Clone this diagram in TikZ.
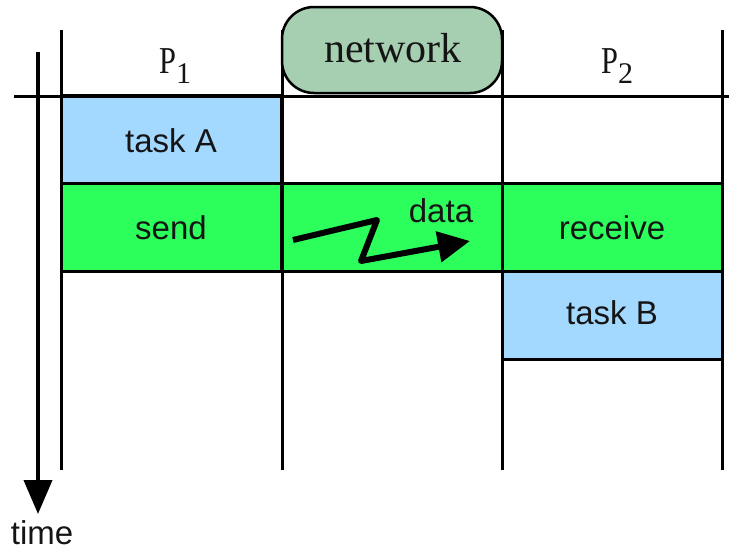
\documentclass[tikz,border=0pt]{standalone}
\usepackage{fontspec}
\setsansfont{Liberation Sans}
\newfontfamily\headfont{Liberation Serif}
\usetikzlibrary{arrows.meta}
\definecolor{taskblue}{HTML}{A3D8FF}
\definecolor{sendgreen}{HTML}{2CFF5C}
\definecolor{netgreen}{HTML}{A6CFB1}
\definecolor{ink}{HTML}{151515}
\begin{document}
\begin{tikzpicture}[x=1pt,y=-1pt,
  grid/.style={line width=3pt,black},
  cell/.style={draw=black,line width=3pt,minimum width=220pt,minimum height=88pt,inner sep=0pt},
  sanslabel/.style={font=\sffamily\fontsize{33}{36}\selectfont,text=ink,inner sep=0pt,anchor=base},
  seriflabel/.style={font=\headfont\fontsize{38}{40}\selectfont,text=ink,inner sep=0pt,anchor=base west}]
\useasboundingbox (0,0) rectangle (729,552);

% coloured cells
\node[cell,fill=taskblue]  (taskA)   at (171.5,139.5) {};
\node[cell,fill=sendgreen] (send)    at (171.5,227)   {};
\node[cell,fill=sendgreen] (link)    at (392,227)     {};
\node[cell,fill=sendgreen] (receive) at (612,227)     {};
\node[cell,fill=taskblue]  (taskB)   at (612,315)     {};

% process and network columns
\draw[grid] (61,30) -- (61,470);
\draw[grid] (282,30) -- (282,470);
\draw[grid] (502,30) -- (502,470);
\draw[grid] (722,30) -- (722,470);
\draw[grid] (14,96) -- (729,96);

% network header
\node[draw=black,line width=2.5pt,fill=netgreen,rounded corners=32pt,
      minimum width=220pt,minimum height=86pt,inner sep=0pt] (net) at (392,50) {};
\node[font=\headfont\fontsize{42}{44}\selectfont,text=ink,inner sep=0pt,anchor=base] (netlabel) at (393,62) {network};

% process headers
\node[seriflabel] (p1) at (159,73) {\scalebox{0.8}[1]{P}\raisebox{-10pt}{\fontsize{30}{30}\selectfont 1}};
\node[seriflabel] (p2) at (601,73) {\scalebox{0.8}[1]{P}\raisebox{-10pt}{\fontsize{30}{30}\selectfont 2}};

% cell texts
\node[sanslabel] (tA) at (171,152) {task A};
\node[sanslabel] (tS) at (171,239) {send};
\node[sanslabel] (tR) at (612,239) {receive};
\node[sanslabel] (tB) at (612,324) {task B};
\node[sanslabel] (tD) at (441,222) {data};

% message in transit
\coordinate (z0) at (293,240);
\coordinate (z1) at (377,220);
\coordinate (z2) at (361,261);
\coordinate (z3) at (470,241);
\draw[line width=6pt,line join=round,black,-{Triangle[length=32pt,width=30pt]}]
  (z0) -- (z1) -- (z2) -- (z3);

% time axis
\coordinate (t0) at (38,52);
\coordinate (t1) at (38,514);
\draw[line width=4pt,black,-{Triangle[length=34pt,width=28pt]}] (t0) -- (t1);
\node[sanslabel] (time) at (42,544) {time};
\end{tikzpicture}
\end{document}
